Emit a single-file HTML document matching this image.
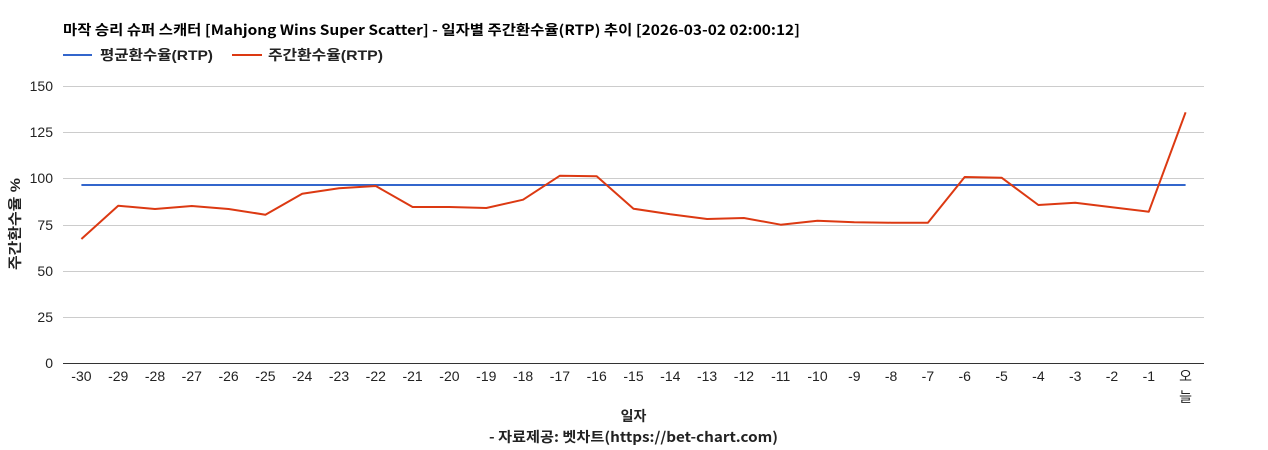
<!DOCTYPE html>
<html><head><meta charset="utf-8"><style>
html,body{margin:0;padding:0;background:#fff;}
svg{display:block;}
</style></head><body>
<svg width="1268" height="450" xmlns="http://www.w3.org/2000/svg">
<rect width="1268" height="450" fill="#fff"/>
<text x="63" y="35" font-family="'Noto Sans CJK KR','Liberation Sans',sans-serif" font-weight="bold" font-size="14" fill="#000" textLength="737" lengthAdjust="spacingAndGlyphs">마작 승리 슈퍼 스캐터 [Mahjong Wins Super Scatter] - 일자별 주간환수율(RTP) 추이 [2026-03-02 02:00:12]</text>
<line x1="63" y1="55" x2="92" y2="55" stroke="#3366cc" stroke-width="2"/>
<text x="100" y="60" font-family="'Liberation Sans','Noto Sans CJK KR',sans-serif" font-weight="bold" font-size="14" fill="#222" textLength="113" lengthAdjust="spacingAndGlyphs">평균환수율(RTP)</text>
<line x1="232" y1="55" x2="262" y2="55" stroke="#dc3912" stroke-width="2"/>
<text x="268" y="60" font-family="'Liberation Sans','Noto Sans CJK KR',sans-serif" font-weight="bold" font-size="14" fill="#222" textLength="115" lengthAdjust="spacingAndGlyphs">주간환수율(RTP)</text>
<g stroke="#cccccc" stroke-width="1">
<line x1="63" y1="86.5" x2="1204" y2="86.5"/>
<line x1="63" y1="132.5" x2="1204" y2="132.5"/>
<line x1="63" y1="178.5" x2="1204" y2="178.5"/>
<line x1="63" y1="225.5" x2="1204" y2="225.5"/>
<line x1="63" y1="271.5" x2="1204" y2="271.5"/>
<line x1="63" y1="317.5" x2="1204" y2="317.5"/>
</g>
<line x1="63" y1="363.5" x2="1204" y2="363.5" stroke="#333" stroke-width="1"/>
<g font-family="'Liberation Sans',sans-serif" font-size="14" fill="#222" text-anchor="end">
<text x="53" y="91">150</text>
<text x="53" y="137">125</text>
<text x="53" y="183">100</text>
<text x="53" y="230">75</text>
<text x="53" y="276">50</text>
<text x="53" y="322">25</text>
<text x="53" y="368">0</text>
</g>
<text transform="translate(20,270) rotate(-90)" font-family="'Liberation Sans','Noto Sans CJK KR',sans-serif" font-weight="bold" font-size="14" fill="#222" textLength="92" lengthAdjust="spacingAndGlyphs">주간환수율 %</text>
<g font-family="'Liberation Sans','Noto Sans CJK KR',sans-serif" font-size="14" fill="#222" text-anchor="middle">
<text x="81.4" y="381">-30</text>
<text x="118.2" y="381">-29</text>
<text x="155.0" y="381">-28</text>
<text x="191.8" y="381">-27</text>
<text x="228.6" y="381">-26</text>
<text x="265.4" y="381">-25</text>
<text x="302.2" y="381">-24</text>
<text x="339.0" y="381">-23</text>
<text x="375.8" y="381">-22</text>
<text x="412.6" y="381">-21</text>
<text x="449.4" y="381">-20</text>
<text x="486.3" y="381">-19</text>
<text x="523.1" y="381">-18</text>
<text x="559.9" y="381">-17</text>
<text x="596.7" y="381">-16</text>
<text x="633.5" y="381">-15</text>
<text x="670.3" y="381">-14</text>
<text x="707.1" y="381">-13</text>
<text x="743.9" y="381">-12</text>
<text x="780.7" y="381">-11</text>
<text x="817.5" y="381">-10</text>
<text x="854.3" y="381">-9</text>
<text x="891.1" y="381">-8</text>
<text x="927.9" y="381">-7</text>
<text x="964.7" y="381">-6</text>
<text x="1001.6" y="381">-5</text>
<text x="1038.4" y="381">-4</text>
<text x="1075.2" y="381">-3</text>
<text x="1112.0" y="381">-2</text>
<text x="1148.8" y="381">-1</text>
<text x="1185.6" y="381">오</text>
<text x="1185.6" y="402">늘</text>
</g>
<line x1="81.4" y1="185" x2="1185.6" y2="185" stroke="#3366cc" stroke-width="2"/>
<polyline fill="none" stroke="#dc3912" stroke-width="2" stroke-linejoin="round" points="81.4,239 118.2,205.7 155.0,209 191.8,206 228.6,209 265.4,214.7 302.2,193.7 339.0,188.3 375.8,186 412.6,207 449.4,207 486.3,208 523.1,199.7 559.9,175.7 596.7,176.3 633.5,208.7 670.3,214.3 707.1,219 743.9,218 780.7,224.7 817.5,220.7 854.3,222.3 891.1,222.7 927.9,222.7 964.7,177 1001.6,177.7 1038.4,205 1075.2,202.7 1112.0,207.3 1148.8,211.7 1185.6,112.3"/>
<text x="633.5" y="421" text-anchor="middle" font-family="'Noto Sans CJK KR','Liberation Sans',sans-serif" font-weight="bold" font-size="14" fill="#222">일자</text>
<text x="489" y="442" font-family="'Noto Sans CJK KR','Liberation Sans',sans-serif" font-weight="bold" font-size="14" fill="#222" textLength="289" lengthAdjust="spacingAndGlyphs">- 자료제공: 벳차트(https://bet-chart.com)</text>
</svg>
</body></html>
